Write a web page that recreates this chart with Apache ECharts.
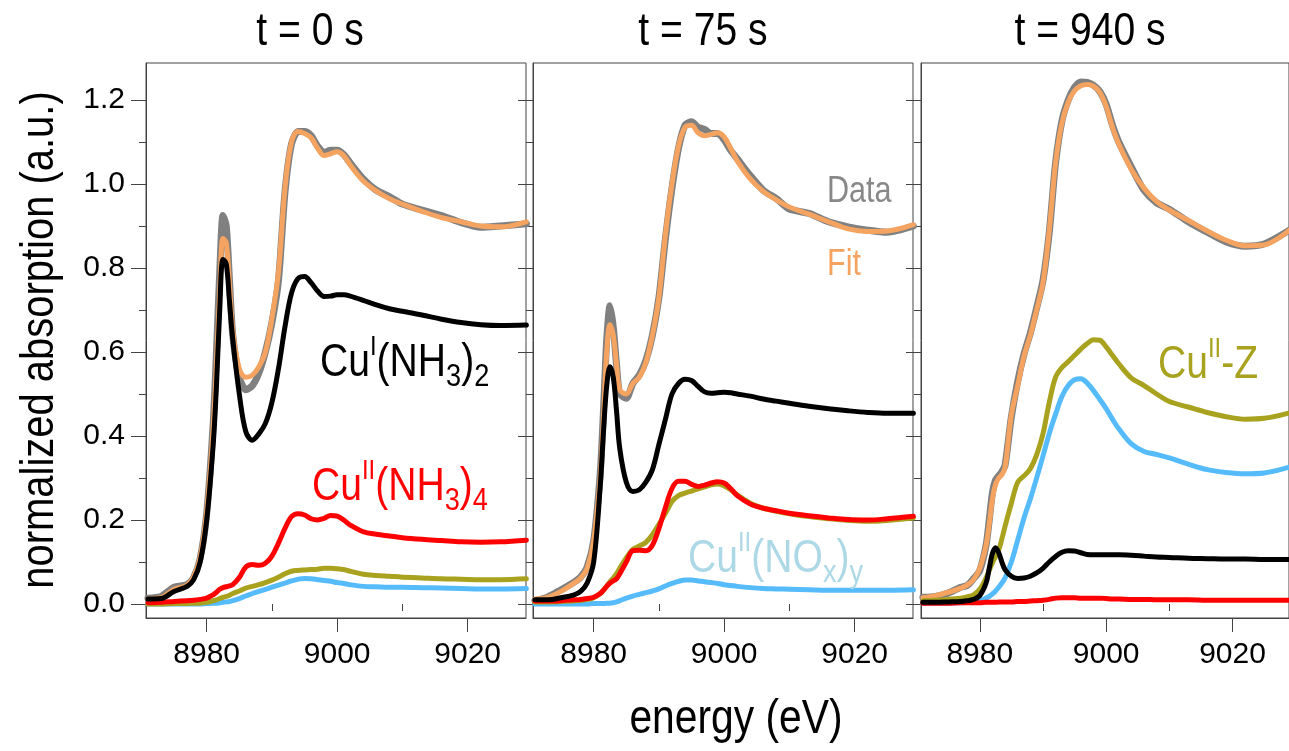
<!DOCTYPE html>
<html>
<head>
<meta charset="utf-8">
<script src="https://cdn.jsdelivr.net/npm/echarts@6/dist/echarts.min.js"></script>
<style>
  html, body { margin: 0; padding: 0; background: #fff; }
  #chart { width: 1289px; height: 751px; }
</style>
</head>
<body>
<div id="chart"></div>
<script>
// Shared energy grid (eV) for every spectrum
const energy = [8971, 8973, 8975, 8977, 8978, 8979, 8980, 8981, 8981.5, 8982, 8982.5, 8983, 8983.5, 8984,
  8985, 8986, 8987, 8988, 8989, 8990, 8991, 8992, 8993, 8994, 8995, 8996, 8997, 8998, 8999, 9000,
  9001, 9002, 9004, 9006, 9008, 9010, 9013, 9016, 9019, 9022, 9025, 9029];

const panelTitles = ['t = 0 s', 't = 75 s', 't = 940 s'];
const xMajorTicks = [8980, 9000, 9020];
const xMinorTicks = [8990, 9010];
const yMajorTicks = [0, 0.2, 0.4, 0.6, 0.8, 1.0, 1.2];
const yMinorTicks = [0.1, 0.3, 0.5, 0.7, 0.9, 1.1];

// t = 0 s
const data0 = [0.014, 0.018, 0.040, 0.046, 0.063, 0.108, 0.215, 0.43, 0.60, 0.79, 0.925, 0.90, 0.77, 0.64,
  0.54, 0.51, 0.52, 0.55, 0.60, 0.67, 0.77, 0.98, 1.095, 1.125, 1.125, 1.115, 1.09, 1.075, 1.08, 1.08,
  1.07, 1.05, 1.012, 0.985, 0.97, 0.952, 0.938, 0.925, 0.908, 0.897, 0.90, 0.905];
const fit0 = [0.012, 0.015, 0.035, 0.045, 0.065, 0.11, 0.22, 0.42, 0.57, 0.74, 0.87, 0.86, 0.76, 0.65,
  0.56, 0.54, 0.545, 0.565, 0.60, 0.68, 0.79, 0.99, 1.10, 1.125, 1.12, 1.11, 1.085, 1.068, 1.072, 1.077,
  1.068, 1.045, 1.007, 0.983, 0.965, 0.952, 0.935, 0.92, 0.91, 0.90, 0.898, 0.91];
const cuI0 = [0.012, 0.013, 0.03, 0.042, 0.058, 0.10, 0.20, 0.38, 0.52, 0.70, 0.82, 0.81, 0.72, 0.63,
  0.50, 0.41, 0.39, 0.405, 0.43, 0.48, 0.56, 0.66, 0.74, 0.775, 0.78, 0.765, 0.745, 0.732, 0.733, 0.736,
  0.736, 0.733, 0.723, 0.712, 0.703, 0.697, 0.688, 0.678, 0.67, 0.665, 0.663, 0.664];
const cuNH0 = [0.003, 0.004, 0.006, 0.008, 0.009, 0.011, 0.014, 0.022, 0.028, 0.035, 0.039, 0.041, 0.043, 0.046,
  0.063, 0.088, 0.094, 0.092, 0.097, 0.114, 0.145, 0.18, 0.208, 0.215, 0.212, 0.203, 0.20, 0.204, 0.211, 0.209,
  0.20, 0.188, 0.172, 0.166, 0.162, 0.158, 0.154, 0.151, 0.148, 0.147, 0.148, 0.152];
const cuZ0 = [0.0, 0.0, 0.001, 0.001, 0.002, 0.002, 0.004, 0.008, 0.010, 0.013, 0.016, 0.018, 0.021, 0.025,
  0.031, 0.038, 0.042, 0.046, 0.051, 0.057, 0.064, 0.072, 0.078, 0.080, 0.081, 0.082, 0.083, 0.085, 0.085, 0.084,
  0.082, 0.078, 0.071, 0.068, 0.066, 0.064, 0.062, 0.060, 0.059, 0.058, 0.058, 0.060];
const cuNOx0 = [0, 0, 0, 0, 0, 0, 0.001, 0.002, 0.002, 0.003, 0.004, 0.005, 0.006, 0.008,
  0.013, 0.019, 0.025, 0.030, 0.035, 0.040, 0.045, 0.050, 0.055, 0.059, 0.061, 0.060, 0.058, 0.056, 0.054, 0.051,
  0.049, 0.046, 0.042, 0.041, 0.040, 0.040, 0.039, 0.038, 0.037, 0.036, 0.036, 0.037];

// t = 75 s
const data75 = [0.008, 0.017, 0.034, 0.052, 0.064, 0.088, 0.15, 0.31, 0.46, 0.63, 0.71, 0.66, 0.57, 0.50,
  0.49, 0.525, 0.545, 0.58, 0.64, 0.73, 0.87, 0.99, 1.085, 1.14, 1.148, 1.135, 1.13, 1.12, 1.12, 1.105,
  1.08, 1.06, 1.02, 0.985, 0.965, 0.94, 0.93, 0.91, 0.898, 0.89, 0.885, 0.90];
const fit75 = [0.012, 0.016, 0.03, 0.05, 0.062, 0.085, 0.15, 0.30, 0.44, 0.60, 0.665, 0.64, 0.57, 0.51,
  0.50, 0.525, 0.54, 0.575, 0.64, 0.73, 0.88, 1.00, 1.09, 1.135, 1.14, 1.122, 1.115, 1.118, 1.122, 1.112,
  1.085, 1.055, 1.012, 0.982, 0.962, 0.945, 0.928, 0.91, 0.893, 0.887, 0.888, 0.903];
const cuI75 = [0.01, 0.01, 0.015, 0.022, 0.03, 0.05, 0.10, 0.28, 0.41, 0.52, 0.565, 0.54, 0.46, 0.37,
  0.29, 0.268, 0.272, 0.29, 0.32, 0.38, 0.44, 0.50, 0.525, 0.535, 0.532, 0.518, 0.505, 0.502, 0.503, 0.504,
  0.503, 0.50, 0.495, 0.488, 0.483, 0.478, 0.471, 0.465, 0.46, 0.456, 0.454, 0.454];
const cuNH75 = [0.007, 0.007, 0.008, 0.010, 0.011, 0.013, 0.016, 0.025, 0.033, 0.042, 0.050, 0.055, 0.060, 0.072,
  0.10, 0.127, 0.128, 0.127, 0.14, 0.18, 0.23, 0.275, 0.292, 0.292, 0.285, 0.28, 0.283, 0.288, 0.291, 0.288,
  0.275, 0.258, 0.238, 0.228, 0.222, 0.216, 0.21, 0.205, 0.201, 0.20, 0.203, 0.209];
const cuZ75 = [0.005, 0.005, 0.006, 0.008, 0.009, 0.011, 0.015, 0.025, 0.033, 0.043, 0.053, 0.062, 0.072, 0.085,
  0.11, 0.13, 0.138, 0.147, 0.165, 0.19, 0.216, 0.244, 0.258, 0.264, 0.269, 0.274, 0.279, 0.284, 0.286, 0.281,
  0.272, 0.26, 0.24, 0.228, 0.221, 0.215, 0.208, 0.203, 0.199, 0.197, 0.199, 0.205];
const cuNOx75 = [0, 0, 0, 0, 0, 0, 0.001, 0.001, 0.001, 0.002, 0.002, 0.003, 0.005, 0.008,
  0.014, 0.019, 0.023, 0.027, 0.031, 0.036, 0.043, 0.049, 0.054, 0.057, 0.057, 0.055, 0.053, 0.051, 0.049, 0.046,
  0.044, 0.042, 0.039, 0.037, 0.036, 0.035, 0.034, 0.033, 0.033, 0.033, 0.033, 0.034];

// t = 940 s
const data940 = [0.016, 0.018, 0.026, 0.04, 0.044, 0.06, 0.08, 0.14, 0.20, 0.265, 0.295, 0.305, 0.315, 0.33,
  0.445, 0.53, 0.595, 0.645, 0.705, 0.77, 0.885, 1.05, 1.15, 1.20, 1.23, 1.243, 1.242, 1.235, 1.22, 1.19,
  1.14, 1.10, 1.04, 0.985, 0.955, 0.94, 0.91, 0.885, 0.862, 0.852, 0.857, 0.89];
const fit940 = [0.015, 0.02, 0.028, 0.038, 0.045, 0.058, 0.085, 0.14, 0.19, 0.25, 0.285, 0.30, 0.308, 0.325,
  0.45, 0.52, 0.59, 0.64, 0.70, 0.765, 0.89, 1.05, 1.145, 1.195, 1.222, 1.234, 1.237, 1.233, 1.218, 1.185,
  1.135, 1.095, 1.034, 0.99, 0.958, 0.938, 0.913, 0.888, 0.866, 0.853, 0.855, 0.89];
const cuI940 = [0.004, 0.004, 0.005, 0.006, 0.008, 0.011, 0.02, 0.05, 0.085, 0.12, 0.134, 0.122, 0.10, 0.082,
  0.066, 0.061, 0.062, 0.066, 0.074, 0.085, 0.10, 0.113, 0.123, 0.127, 0.126, 0.122, 0.118, 0.117, 0.117, 0.117,
  0.117, 0.117, 0.116, 0.114, 0.112, 0.111, 0.109, 0.108, 0.107, 0.107, 0.106, 0.106];
const cuNH940 = [0.002, 0.002, 0.002, 0.003, 0.003, 0.003, 0.003, 0.004, 0.004, 0.004, 0.004, 0.005, 0.005, 0.005,
  0.005, 0.006, 0.006, 0.007, 0.008, 0.009, 0.011, 0.014, 0.015, 0.015, 0.015, 0.014, 0.014, 0.014, 0.014, 0.013,
  0.012, 0.012, 0.011, 0.011, 0.010, 0.010, 0.010, 0.009, 0.009, 0.009, 0.009, 0.009];
const cuZ940 = [0.008, 0.009, 0.011, 0.014, 0.017, 0.022, 0.035, 0.062, 0.08, 0.098, 0.113, 0.128, 0.155, 0.185,
  0.24, 0.29, 0.305, 0.322, 0.355, 0.405, 0.48, 0.54, 0.563, 0.577, 0.592, 0.607, 0.62, 0.629, 0.628, 0.612,
  0.592, 0.572, 0.538, 0.52, 0.50, 0.482, 0.469, 0.456, 0.446, 0.44, 0.442, 0.455];
const cuNOx940 = [0.002, 0.002, 0.002, 0.003, 0.004, 0.005, 0.008, 0.014, 0.018, 0.024, 0.031, 0.04, 0.05, 0.062,
  0.10, 0.152, 0.205, 0.25, 0.30, 0.352, 0.406, 0.452, 0.494, 0.52, 0.534, 0.536, 0.526, 0.508, 0.487, 0.465,
  0.44, 0.417, 0.381, 0.363, 0.356, 0.348, 0.333, 0.32, 0.313, 0.31, 0.312, 0.326];

const panels = [
  { data: data0, fit: fit0, cuI: cuI0, cuNH: cuNH0, cuZ: cuZ0, cuNOx: cuNOx0 },
  { data: data75, fit: fit75, cuI: cuI75, cuNH: cuNH75, cuZ: cuZ75, cuNOx: cuNOx75 },
  { data: data940, fit: fit940, cuI: cuI940, cuNH: cuNH940, cuZ: cuZ940, cuNOx: cuNOx940 }
];

const FONT = '"Liberation Sans Narrow", "Arial Narrow", "Liberation Sans", Arial, sans-serif';
const AXIS_COLOR = '#444';
const COLORS = {
  data: '#808080', fit: '#F4A460', cuI: '#000000', cuNH: '#FF0000',
  cuZ: '#A8A21E', cuNOx: '#55BBFA', nox: '#ADD8E6'
};
// horizontal condensing applied to the free text (narrow face look)
const NARROW = 0.85;

const gridLefts = [146, 533, 921];
const X_MIN = 8970.7, X_MAX = 9028.94;
const Y_MIN = -0.0333, Y_MAX = 1.288;

const grids = [], xAxes = [], yAxes = [], series = [];

gridLefts.forEach((left, p) => {
  grids.push({ left: left, top: 63, width: 380, height: 555, show: true,
    borderColor: AXIS_COLOR, borderWidth: 1, backgroundColor: 'transparent' });

  // major x axis with labels
  xAxes.push({ type: 'value', gridIndex: p, min: X_MIN, max: X_MAX, position: 'bottom',
    axisLine: { show: true, onZero: false, lineStyle: { color: AXIS_COLOR, width: 1 } },
    axisTick: { show: true, customValues: xMajorTicks, length: 14, lineStyle: { color: AXIS_COLOR, width: 1 } },
    axisLabel: { show: true, customValues: xMajorTicks, margin: 22, fontFamily: FONT, fontSize: 30, color: '#000',
      formatter: v => String(Math.round(v)) },
    splitLine: { show: false } });
  // minor x ticks
  xAxes.push({ type: 'value', gridIndex: p, min: X_MIN, max: X_MAX, position: 'bottom',
    axisLine: { show: false },
    axisTick: { show: true, customValues: xMinorTicks, length: 7, lineStyle: { color: AXIS_COLOR, width: 1 } },
    axisLabel: { show: false }, splitLine: { show: false } });

  // major y axis
  yAxes.push({ type: 'value', gridIndex: p, min: Y_MIN, max: Y_MAX, position: 'left',
    axisLine: { show: true, onZero: false, lineStyle: { color: AXIS_COLOR, width: 1 } },
    axisTick: { show: true, customValues: yMajorTicks, length: 15, lineStyle: { color: AXIS_COLOR, width: 1 } },
    axisLabel: { show: p === 0, customValues: yMajorTicks, margin: 21, fontFamily: FONT, fontSize: 30, color: '#000',
      formatter: v => v.toFixed(1) },
    splitLine: { show: false } });
  // minor y ticks
  yAxes.push({ type: 'value', gridIndex: p, min: Y_MIN, max: Y_MAX, position: 'left',
    axisLine: { show: false },
    axisTick: { show: true, customValues: yMinorTicks, length: 7, lineStyle: { color: AXIS_COLOR, width: 1 } },
    axisLabel: { show: false }, splitLine: { show: false } });

  const pd = panels[p];
  const line = (name, arr, color, width, smooth, z) => ({
    type: 'line', name: name, xAxisIndex: 2 * p, yAxisIndex: 2 * p,
    data: energy.map((e, i) => [e, arr[i]]),
    showSymbol: false, symbol: 'none', smooth: smooth, z: z, clip: true,
    lineStyle: { color: color, width: width, cap: 'round', join: 'round' },
    emphasis: { disabled: true }, silent: true
  });
  series.push(line('Data', pd.data, COLORS.data, 7, 0.25, 2));
  series.push(line('Fit', pd.fit, COLORS.fit, 5, 0.35, 3));
  series.push(line('Cu(II)(NOx)y', pd.cuNOx, COLORS.cuNOx, 5, 0.35, 4));
  series.push(line('Cu(II)-Z', pd.cuZ, COLORS.cuZ, 5, 0.35, 5));
  series.push(line('Cu(II)(NH3)4', pd.cuNH, COLORS.cuNH, 5, 0.35, 6));
  series.push(line('Cu(I)(NH3)2', pd.cuI, COLORS.cuI, 5, 0.35, 7));
});

// rich-text styles for chemical labels (superscript oxidation state, subscript counts)
function chemRich(color) {
  return {
    m: { fontFamily: FONT, fontSize: 46, lineHeight: 60, verticalAlign: 'middle', fill: color },
    sp: { fontFamily: FONT, fontSize: 28, lineHeight: 44, verticalAlign: 'top', fill: color },
    sb: { fontFamily: FONT, fontSize: 32, lineHeight: 34, verticalAlign: 'bottom', fill: color }
  };
}
function chemLabel(text, x, y, color) {
  return { type: 'text', x: x, y: y, z: 100, silent: true, scaleX: NARROW,
    style: { text: text, rich: chemRich(color), fill: color, align: 'left', verticalAlign: 'top' } };
}
function plainText(text, x, y, size, color, align, vAlign, rotation) {
  return { type: 'text', x: x, y: y, z: 100, silent: true, rotation: rotation || 0, scaleX: NARROW,
    style: { text: text, fill: color, font: size + 'px ' + FONT, align: align, verticalAlign: vAlign } };
}

const graphics = [
  plainText(panelTitles[0], 310, 32, 46, '#000', 'center', 'middle'),
  plainText(panelTitles[1], 703, 32, 46, '#000', 'center', 'middle'),
  plainText(panelTitles[2], 1090, 32, 46, '#000', 'center', 'middle'),
  plainText('energy (eV)', 736, 720, 48, '#000', 'center', 'middle'),
  plainText('normalized absorption (a.u.)', 40, 340, 47, '#000', 'center', 'middle', Math.PI / 2),
  chemLabel('{m|Cu}{sp|I}{m|(NH}{sb|3}{m|)}{sb|2}', 320, 333, '#000'),
  chemLabel('{m|Cu}{sp|II}{m|(NH}{sb|3}{m|)}{sb|4}', 312, 457, '#FF0000'),
  chemLabel('{m|Cu}{sp|II}{m|(NO}{sb|x}{m|)}{sb|y}', 688, 529, COLORS.nox),
  chemLabel('{m|Cu}{sp|II}{m|-Z}', 1158, 335, COLORS.cuZ),
  plainText('Data', 827, 210, 36, '#888888', 'left', 'bottom'),
  plainText('Fit', 827, 283, 36, COLORS.fit, 'left', 'bottom')
];

const chart = echarts.init(document.getElementById('chart'), null, { renderer: 'canvas' });
chart.setOption({
  animation: false,
  backgroundColor: '#ffffff',
  grid: grids,
  xAxis: xAxes,
  yAxis: yAxes,
  series: series,
  graphic: graphics
});
</script>
</body>
</html>
